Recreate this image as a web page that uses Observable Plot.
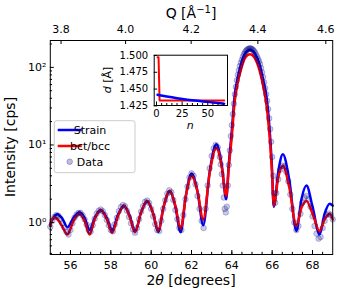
<!DOCTYPE html>
<html><head><meta charset="utf-8">
<script src="https://cdn.jsdelivr.net/npm/d3@7"></script>
<script src="https://cdn.jsdelivr.net/npm/@observablehq/plot@0.6"></script>
<style>
body{margin:0;background:#fff;}
#wrap{position:relative;width:339px;height:295px;font-family:"DejaVu Sans",sans-serif;}
#wrap svg{position:absolute;}
</style></head><body><div id="wrap"></div>
<script>
// ---------- main chart data ----------
const curveTwoTheta = [55.0,55.15,55.35,55.6,55.85,56.15,56.45,56.7,56.95,57.2,57.5,57.8,58.07,58.35,58.65,58.95,59.2,59.5,59.8,60.1,60.35,60.62,60.92,61.2,61.46,61.72,62.0,62.3,62.58,62.9,63.23,63.5,63.72,63.85,64.0,64.13,64.3,64.46,64.65,64.9,65.15,65.37,65.55,65.72,65.88,65.98,66.08,66.3,66.53,66.85,67.2,67.45,67.7,68.0,68.35,68.6,68.85,69.0];
const strainIntensity = [0.95,1.15,1.28,1.12,0.87,1.15,1.36,1.15,0.80,1.15,1.45,1.15,0.80,1.25,1.65,1.2,0.76,1.35,1.9,1.3,0.76,1.6,2.55,1.6,0.75,2.2,4.3,2.5,0.92,4.5,10.2,5.5,2.0,5.7,15.5,41,75,112,150,169,150,110,70,41,15,5.7,1.6,4.5,7.6,3.5,0.78,2.0,3.0,1.6,0.7,1.3,1.75,1.65];
const bctIntensity = [0.9,1.16,1.1,0.88,0.70,1.05,1.30,1.05,0.70,1.1,1.45,1.1,0.74,1.2,1.65,1.15,0.75,1.35,1.9,1.3,0.78,1.6,2.55,1.65,0.83,2.2,4.0,2.5,1.1,4.3,9.2,5.2,2.2,5.2,13,34,65,95,132,148,130,92,58,32,12,5,1.65,3.8,5.4,2.8,0.9,1.55,1.9,1.3,0.78,1.1,1.3,1.1];

const dataTwoTheta = [
55.0,55.1,55.2,55.3,55.4,55.5,55.6,55.7,55.8,55.9,
56.0,56.1,56.2,56.3,56.4,56.5,56.6,56.7,56.8,56.9,
57.0,57.1,57.2,57.3,57.4,57.5,57.6,57.7,57.8,57.9,
58.0,58.1,58.2,58.3,58.4,58.5,58.6,58.7,58.8,58.9,
59.0,59.1,59.2,59.3,59.4,59.5,59.6,59.7,59.8,59.9,
60.0,60.1,60.2,60.3,60.4,60.5,60.6,60.7,60.8,60.9,
61.0,61.1,61.2,61.3,61.4,61.5,61.6,61.7,61.8,61.9,
62.0,62.1,62.2,62.3,62.4,62.5,62.6,62.7,62.8,62.9,
63.0,63.1,63.2,63.3,63.4,
63.45,63.5,63.55,63.6,63.65,63.7,63.75,63.8,63.85,63.9,63.95,
64.0,64.05,64.1,64.15,64.2,64.25,64.3,64.35,64.4,64.45,64.5,64.55,64.6,64.65,64.7,64.75,64.8,64.85,64.9,64.95,
65.0,65.05,65.1,65.15,65.2,65.25,65.3,65.35,65.4,65.45,65.5,65.55,65.6,65.65,65.7,65.75,65.8,65.85,65.9,65.95,
66.0,66.05,66.1,66.15,66.2,
66.3,66.4,66.5,66.6,66.7,66.8,66.9,67.0,67.1,67.2,67.3,67.4,67.5,67.6,67.7,67.8,67.9,68.0,68.1,68.2,68.3,68.4,68.5,68.6,68.7,68.8,68.9,69.0];
const dataIntensity = [
0.88,1.05,1.18,1.25,1.22,1.12,0.98,0.86,0.76,0.7,
0.8,0.98,1.15,1.26,1.33,1.33,1.24,1.1,0.94,0.8,
0.76,0.92,1.12,1.3,1.42,1.47,1.4,1.25,1.08,0.92,
0.8,0.77,0.95,1.15,1.4,1.58,1.68,1.62,1.42,1.18,
0.98,0.82,0.74,0.85,1.1,1.38,1.62,1.85,1.92,1.78,
1.5,1.2,0.95,0.8,0.78,1.05,1.5,1.95,2.35,2.6,
2.45,1.95,1.45,1.1,0.85,0.8,1.25,2.0,2.9,3.8,
4.3,4.0,3.1,2.2,1.5,1.05,0.85,1.5,3.0,5.0,
7.2,9.0,10.0,9.3,7.0,
5.6,4.2,3.0,2.1,1.5,1.35,1.6,3.0,5.5,8.5,13,
18,25,34,45,56,68,80,92,104,115,125,137,148,156,163,168,172,175,176,175,
172,168,162,155,146,137,128,120,110,98,86,75,64,54,45,37,29,22,16,11,
7,4,2.4,1.8,2.4,
3.6,4.8,5.4,5.3,4.5,3.4,2.3,1.5,1.0,0.8,0.9,1.3,1.8,2.1,2.2,2.0,1.6,1.2,0.9,0.72,0.62,0.65,0.85,1.05,1.25,1.3,1.25,1.1];

const xTicks = [56,58,60,62,64,66,68];
const xMinorTicks = [55.5,56,56.5,57,57.5,58,58.5,59,59.5,60,60.5,61,61.5,62,62.5,63,63.5,64,64.5,65,65.5,66,66.5,67,67.5,68,68.5];
const yTicks = [1,10,100];
const yTickLabels = ["10⁰","10¹","10²"];
const yMinorTicks = [0.4,0.5,0.6,0.7,0.8,0.9,2,3,4,5,6,7,8,9,20,30,40,50,60,70,80,90,200];
const qTicks = [3.8,4.0,4.2,4.4,4.6];
const wavelength = 1.5406; // Cu K-alpha, Å

const legendLabels = ["Strain","bct/bcc","Data"];

// ---------- inset data ----------
const insetStrainN = [1,10,20,30,40,50,60,66];
const insetStrainD = [1.4415,1.4390,1.4365,1.4343,1.4325,1.4310,1.4293,1.4283];
const insetBctN = [1,2,3,66];
const insetBctD = [1.4975,1.4975,1.433,1.433];
const insetXTicks = [0,25,50];
const insetXMinor = [5,10,15,20,30,35,40,45,55,60,65];
const insetYTicks = [1.425,1.45,1.475,1.5];

// ---------- main plot ----------
const W = 339, H = 295, mL = 49.8, mR = 6.8, mT = 40, mB = 41;
const fw = W - mL - mR, fh = H - mT - mB;
const toTwoTheta = q => 2 * Math.asin(q * wavelength / (4 * Math.PI)) * 180 / Math.PI;
const toQ = t => 4 * Math.PI * Math.sin(t / 2 * Math.PI / 180) / wavelength;
const navy = "#000080";

const main = Plot.plot({
  width: W, height: H, marginLeft: mL, marginRight: mR, marginTop: mT, marginBottom: mB,
  style: {fontFamily: "DejaVu Sans", fontSize: "11px", background: "transparent", overflow: "visible"},
  x: {domain: [55, 69]},
  y: {type: "log", domain: [0.387, 222]},
  marks: [
    Plot.line(curveTwoTheta, {x: curveTwoTheta, y: strainIntensity, stroke: "#0000ff", strokeWidth: 2.5, curve: "monotone-x"}),
    Plot.line(curveTwoTheta, {x: curveTwoTheta, y: bctIntensity, stroke: "#ff0000", strokeWidth: 2.5, curve: "monotone-x"}),
    Plot.dot(dataTwoTheta, {x: dataTwoTheta, y: dataIntensity, r: 2.8, fill: navy, fillOpacity: 0.2, stroke: navy, strokeOpacity: 0.3, strokeWidth: 0.8}),
    Plot.frame({stroke: "black", strokeWidth: 1}),
    Plot.ruleX(xMinorTicks, {x: d => d, insetTop: fh - 2.2}),
    Plot.ruleX(xTicks, {x: d => d, insetTop: fh - 4}),
    Plot.ruleX(qTicks.map(toTwoTheta), {x: d => d, insetBottom: fh - 4}),
    Plot.ruleY(yMinorTicks, {y: d => d, insetRight: fw - 2.2}),
    Plot.ruleY(yTicks, {y: d => d, insetRight: fw - 4}),
    Plot.axisX({ticks: xTicks, tickSize: 0, tickPadding: 7, label: null, fontSize: 11}),
    Plot.axisX({anchor: "top", ticks: qTicks.map(toTwoTheta), tickSize: 0, tickPadding: 8, label: null, fontSize: 11, tickFormat: t => toQ(t).toFixed(1)}),
    Plot.axisY({ticks: yTicks, tickSize: 0, tickPadding: 4, label: null, fontSize: 11, tickFormat: d => yTickLabels[yTicks.indexOf(d)]})
  ]
});
main.style.left = "0px"; main.style.top = "0px";
document.getElementById("wrap").appendChild(main);

const s = d3.select(main);
// axis titles
const xl = s.append("text").attr("x", mL + fw / 2).attr("y", 284.5).attr("text-anchor", "middle").attr("font-size", 14).attr("fill", "black");
xl.append("tspan").text("2");
xl.append("tspan").attr("font-style", "italic").text("θ");
xl.append("tspan").text(" [degrees]");
const ql = s.append("text").attr("x", mL + fw / 2).attr("y", 17.5).attr("text-anchor", "middle").attr("font-size", 14).attr("fill", "black");
ql.append("tspan").text("Q [Å");
ql.append("tspan").attr("dy", -5).attr("font-size", 10).text("−1");
ql.append("tspan").attr("dy", 5).text("]");
s.append("text").attr("transform", "translate(14.5,147) rotate(-90)").attr("text-anchor", "middle").attr("font-size", 14).attr("fill", "black").text("Intensity [cps]");

// legend
const lg = s.append("g");
lg.append("rect").attr("x", 54.3).attr("y", 120.7).attr("width", 80.7).attr("height", 52).attr("rx", 2.5)
  .attr("fill", "white").attr("fill-opacity", 0.85).attr("stroke", "#cccccc").attr("stroke-width", 1);
const rowY = [130, 146, 161.7];
lg.append("line").attr("x1", 57.7).attr("x2", 81.7).attr("y1", rowY[0]).attr("y2", rowY[0]).attr("stroke", "#0000ff").attr("stroke-width", 2.5);
lg.append("line").attr("x1", 57.7).attr("x2", 81.7).attr("y1", rowY[1]).attr("y2", rowY[1]).attr("stroke", "#ff0000").attr("stroke-width", 2.5);
lg.append("circle").attr("cx", 69.7).attr("cy", rowY[2]).attr("r", 2.8).attr("fill", navy).attr("fill-opacity", 0.25).attr("stroke", navy).attr("stroke-opacity", 0.35).attr("stroke-width", 0.8);
legendLabels.forEach((t, i) => {
  lg.append("text").attr("x", 90).attr("y", rowY[i] + 4).attr("font-size", 11).attr("fill", "black").text(t);
});

// ---------- inset ----------
const iW = 135, iH = 95, iL = 53.7, iR = 8, iT = 9.7, iB = 35;
const ifw = iW - iL - iR, ifh = iH - iT - iB;
const inset = Plot.plot({
  width: iW, height: iH, marginLeft: iL, marginRight: iR, marginTop: iT, marginBottom: iB,
  style: {fontFamily: "DejaVu Sans", fontSize: "10px", background: "transparent", overflow: "visible"},
  x: {domain: [-2.25, 69.25]},
  y: {domain: [1.4256, 1.5004]},
  marks: [
    Plot.frame({fill: "white"}),
    Plot.line(insetBctN, {x: insetBctN, y: insetBctD, stroke: "#ff0000", strokeWidth: 2}),
    Plot.line(insetStrainN, {x: insetStrainN, y: insetStrainD, stroke: "#0000ff", strokeWidth: 2.5, curve: "monotone-x"}),
    Plot.frame({stroke: "black", strokeWidth: 1}),
    Plot.ruleX(insetXMinor, {x: d => d, insetTop: ifh - 2}),
    Plot.ruleX(insetXTicks, {x: d => d, insetTop: ifh - 3.5}),
    Plot.ruleY(insetYTicks, {y: d => d, insetRight: ifw - 3.5}),
    Plot.axisX({ticks: insetXTicks, tickSize: 0, tickPadding: 4, label: null, fontSize: 10}),
    Plot.axisY({ticks: insetYTicks, tickSize: 0, tickPadding: 6, label: null, fontSize: 10, tickFormat: d => d.toFixed(3)})
  ]
});
inset.style.left = "100px"; inset.style.top = "45px";
document.getElementById("wrap").appendChild(inset);
const si = d3.select(inset);
const dl = si.append("text").attr("transform", "translate(10.5,35) rotate(-90)").attr("text-anchor", "middle").attr("font-size", 11).attr("fill", "black");
dl.append("tspan").attr("font-style", "italic").text("d");
dl.append("tspan").text(" [Å]");
si.append("text").attr("x", iL + ifw / 2).attr("y", 84).attr("text-anchor", "middle").attr("font-size", 11).attr("font-style", "italic").attr("fill", "black").text("n");
</script>
</body></html>
